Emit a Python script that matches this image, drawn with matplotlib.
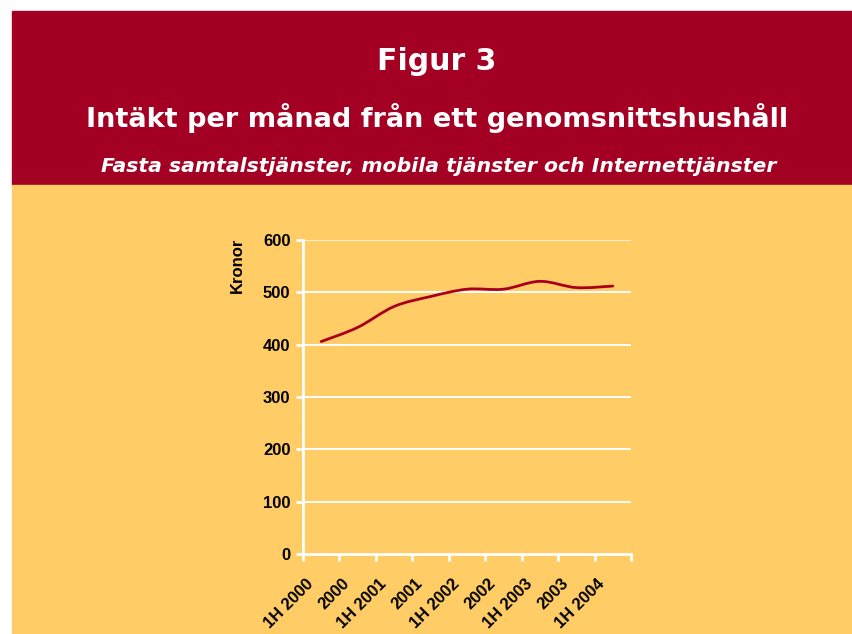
import numpy as np
import matplotlib
matplotlib.use("Agg")
import matplotlib.pyplot as plt
from matplotlib.patches import Rectangle, PathPatch
from matplotlib.path import Path

# data (kronor per month)
periods = ["1H 2000", "2000", "1H 2001", "2001", "1H 2002",
           "2002", "1H 2003", "2003", "1H 2004"]
kronor = [406, 433, 473, 492, 506, 506, 521, 509, 512]
yticks = [0, 100, 200, 300, 400, 500, 600]

title = "Figur 3"
subtitle = "Intäkt per månad från ett genomsnittshushåll"
subsub = "Fasta samtalstjänster, mobila tjänster och Internettjänster"

RED = "#a30023"
YELLOW = "#ffcc66"
LINE = "#a8001e"

W, H = 853, 634
fig = plt.figure(figsize=(W / 100, H / 100), dpi=100)
fig.patch.set_facecolor("white")

# header and background panels (figure pixel fractions)
fig.patches.append(Rectangle((12 / W, 1 - 185 / H), 1, (185 - 11) / H,
                             transform=fig.transFigure, color=RED, zorder=-2))
fig.patches.append(Rectangle((12 / W, 0), 1, 1 - 185 / H,
                             transform=fig.transFigure, color=YELLOW, zorder=-2))

head = "DejaVu Sans"
fig.text(437 / W, 1 - 62 / H, title, color="white", fontsize=21.5,
         fontweight="bold", family=head, ha="center", va="center")
fig.text(437 / W, 1 - 118 / H, subtitle, color="white", fontsize=19.5,
         fontweight="bold", family=head, ha="center", va="center")
fig.text(439 / W, 1 - 167 / H, subsub, color="white", fontsize=14.7,
         fontweight="bold", style="italic", family=head, ha="center", va="center")

# plot area: x 303..631, y 240..554 (pixels from top)
ax = fig.add_axes([303 / W, 1 - 554 / H, (631 - 303) / W, (554 - 240) / H])
ax.set_zorder(2)
ax.set_facecolor("none")
ax.set_xlim(0, len(periods))
ax.set_ylim(0, 600)

for s in ["top", "right"]:
    ax.spines[s].set_visible(False)
for s in ["left", "bottom"]:
    ax.spines[s].set_color("white")
    ax.spines[s].set_linewidth(2)
    ax.spines[s].set_zorder(3)

lab_font = dict(fontsize=12, fontweight="bold", family="Liberation Sans")

ax.set_yticks(yticks)
ax.set_yticklabels([str(v) for v in yticks], **lab_font)
for v in yticks[1:]:
    ax.axhline(v, color="white", lw=1.4 if v < 600 else 0.8,
               alpha=1 if v < 600 else 0.7, zorder=1)

ax.set_xticks(np.arange(len(periods) + 1))
ax.set_xticklabels([])
ax.tick_params(axis="both", color="white", width=2, length=5, pad=4)
ax.tick_params(axis="x", direction="out")

centers = np.arange(len(periods)) + 0.5
for xc, lab in zip(centers, periods):
    ax.text(xc - 0.28, -52, lab, rotation=45, ha="right", va="center",
            rotation_mode="anchor", clip_on=False, **lab_font)

ax.set_ylabel("Kronor", labelpad=12, **lab_font)
ax.yaxis.set_label_coords(-0.176, 0.92)

# smoothed line through the data points (Excel-style bezier)
pts = np.column_stack([centers, kronor]).astype(float)
verts = [tuple(pts[0])]
codes = [Path.MOVETO]
n = len(pts)
for i in range(n - 1):
    p0 = pts[max(i - 1, 0)]
    p1 = pts[i]
    p2 = pts[i + 1]
    p3 = pts[min(i + 2, n - 1)]
    c1 = p1 + (p2 - p0) / 6.0
    c2 = p2 - (p3 - p1) / 6.0
    verts += [tuple(c1), tuple(c2), tuple(p2)]
    codes += [Path.CURVE4] * 3
ax.add_patch(PathPatch(Path(verts, codes), facecolor="none", edgecolor=LINE,
                       lw=2, zorder=4, capstyle="round", joinstyle="round"))

fig.savefig("out.png", dpi=100, facecolor=fig.get_facecolor())
